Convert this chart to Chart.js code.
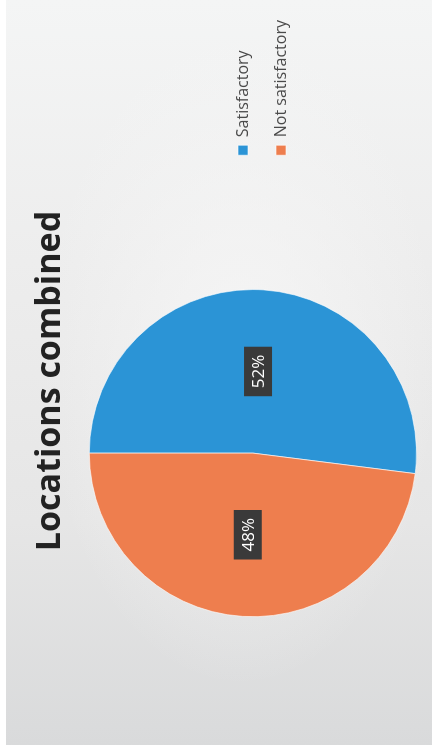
<!DOCTYPE html>
<html>
<head>
<meta charset="utf-8">
<script src="https://cdn.jsdelivr.net/npm/chart.js@4.4.1/dist/chart.umd.min.js"></script>
<style>
  html, body { margin: 0; padding: 0; background: #ffffff; }
  body { width: 438px; height: 755px; overflow: hidden; position: relative; }
  #papel {
    position: absolute; left: 6px; top: 0; width: 426px; height: 745px;
    background:
      radial-gradient(ellipse at 55% 48%, rgba(246,246,246,0.9) 0%, rgba(246,246,246,0) 60%),
      linear-gradient(to bottom, #f4f5f5 0%, #ededed 35%, #e6e6e6 70%, #d9dadb 100%);
  }
  /* la hoja viene girada: el grafico se dibuja en horizontal y se rota */
  #girado {
    position: absolute; left: 0; top: 0; width: 755px; height: 438px;
    transform-origin: 0 0;
    transform: translateY(755px) rotate(-90deg);
  }
</style>
</head>
<body>
<div id="papel"></div>
<div id="girado"><canvas id="grafica_locaciones" width="755" height="438"></canvas></div>
<script>
const titulo = "Locations combined";
const categorias = ["Satisfactory", "Not satisfactory"];
const porcentajes = [52, 48];
const colores = ["#2b94d6", "#ee7e4e"];

// Cajitas oscuras con el porcentaje encima de cada rebanada
const etiquetasPorcentaje = {
    id: "etiquetasPorcentaje",
    afterDatasetsDraw(chart) {
        const ctx = chart.ctx;
        const meta = chart.getDatasetMeta(0);
        ctx.save();
        ctx.font = '17px "Open Sans"';
        ctx.textAlign = "center";
        ctx.textBaseline = "middle";
        meta.data.forEach(function (arc, i) {
            const pos = arc.tooltipPosition();
            const texto = porcentajes[i] + "%";
            const w = ctx.measureText(texto).width + 16;
            const h = 28;
            ctx.fillStyle = "#3a3a3a";
            ctx.fillRect(pos.x - w / 2, pos.y - h / 2, w, h);
            ctx.fillStyle = "#ffffff";
            ctx.fillText(texto, pos.x, pos.y + 1);
        });
        ctx.restore();
    }
};

function GraficaLocaciones() {
    let ctx = document.getElementById("grafica_locaciones").getContext("2d");
    const chart = new Chart(ctx, {
        type: "pie",
        data: {
            labels: categorias,
            datasets: [
                {
                    data: porcentajes,
                    backgroundColor: colores,
                    borderColor: "rgba(255,255,255,0.6)",
                    borderWidth: 1
                }
            ]
        },
        options: {
            responsive: false,
            animation: false,
            layout: {
                padding: { top: 30, bottom: 21, left: 3, right: 10 }
            },
            plugins: {
                title: {
                    display: true,
                    text: titulo,
                    color: "#222222",
                    font: { family: "Open Sans", size: 34, weight: "bold", lineHeight: 1.2 },
                    padding: { top: 0, bottom: 18 }
                },
                // subtitulo vacio a la izquierda: margen extra solo para el pastel
                subtitle: {
                    display: true,
                    position: "left",
                    fullSize: false,
                    text: "",
                    font: { size: 10, lineHeight: 1 },
                    padding: { top: 0, bottom: 13 }
                },
                legend: {
                    position: "right",
                    // titulo vacio: solo empuja los elementos hacia abajo
                    title: {
                        display: true,
                        text: "",
                        font: { size: 10, lineHeight: 1 },
                        padding: { top: 0, bottom: 67 }
                    },
                    labels: {
                        boxWidth: 10,
                        boxHeight: 10,
                        padding: 22,
                        color: "#4a4a4a",
                        font: { family: "Open Sans", size: 16 }
                    }
                },
                tooltip: { enabled: false }
            }
        },
        plugins: [etiquetasPorcentaje]
    });
}

GraficaLocaciones();
</script>
</body>
</html>
